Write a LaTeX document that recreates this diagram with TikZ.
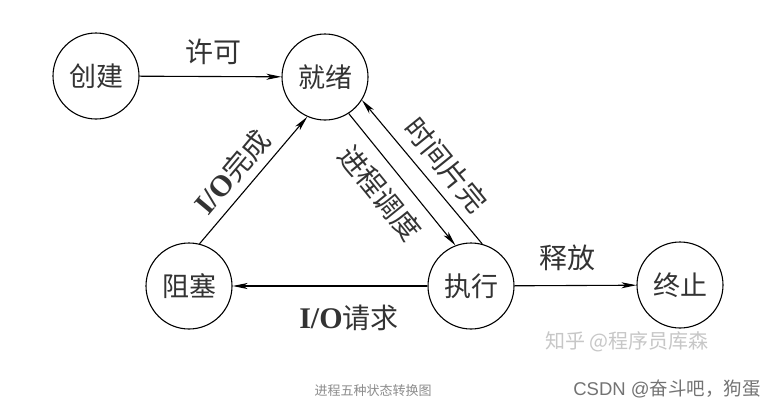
\documentclass[tikz,border=0pt]{standalone}
\usepackage{fontspec}
\setmainfont{Liberation Serif}
\newfontfamily\cjk{Noto Sans CJK SC}
\newfontfamily\sanslat{Liberation Sans}
\usetikzlibrary{arrows.meta}
\newcommand{\iolat}{{\rmfamily\bfseries\fontsize{30}{30}\selectfont I/O}}
\begin{document}
\begin{tikzpicture}[x=1pt,y=-1pt,
  state/.style={circle,draw,line width=1.1pt,minimum size=86pt,inner sep=0pt,
    text=black!80,font=\cjk\fontsize{27}{27}\selectfont},
  conn/.style={line width=1.1pt,-{Stealth[length=15pt,width=6pt,inset=4pt]}},
  lbl/.style={inner sep=0pt,text=black!80,font=\cjk\fontsize{28}{28}\selectfont}]
\fill[white] (0,0) rectangle (780,410);
\useasboundingbox (0,0) rectangle (780,410);
\node[state] (create) at (96,76) {创建};
\node[state] (ready) at (325,77) {就绪};
\node[state] (block) at (189,286) {阻塞};
\node[state] (run) at (471,286) {执行};
\node[state] (end) at (680,285) {终止};
\draw[conn] (create) -- (ready);
\draw[conn] (block.76) -- (ready.-114);
\draw[conn] (ready.-57) -- (run.111);
\draw[conn] (run.75) -- (ready.-32);
\draw[conn] (run) -- (block);
\draw[conn] (run) -- (end);
\node[lbl] (l1) at (213,52) {许可};
\node[lbl,rotate=50] (l2) at (232,172) {\iolat 完成};
\node[lbl,rotate=-51] (l3) at (380,193) {进程调度};
\node[lbl,rotate=-51] (l4) at (446,165) {时间片完};
\node[lbl] (l5) at (349,318) {\iolat 请求};
\node[lbl] (l6) at (567,258) {释放};
\node[inner sep=0pt,text=black!22,font=\cjk\fontsize{20}{20}\selectfont] (w1) at (627,342) {知乎 @程序员库森};
\node[inner sep=0pt,text=black!45,font=\cjk\fontsize{13}{13}\selectfont] (cap) at (373,391) {进程五种状态转换图};
\node[inner sep=0pt,text=black!55,font=\cjk\fontsize{18.5}{18.5}\selectfont] (w2) at (667,389) {{\sanslat CSDN @}奋斗吧，狗蛋};
\end{tikzpicture}
\end{document}
